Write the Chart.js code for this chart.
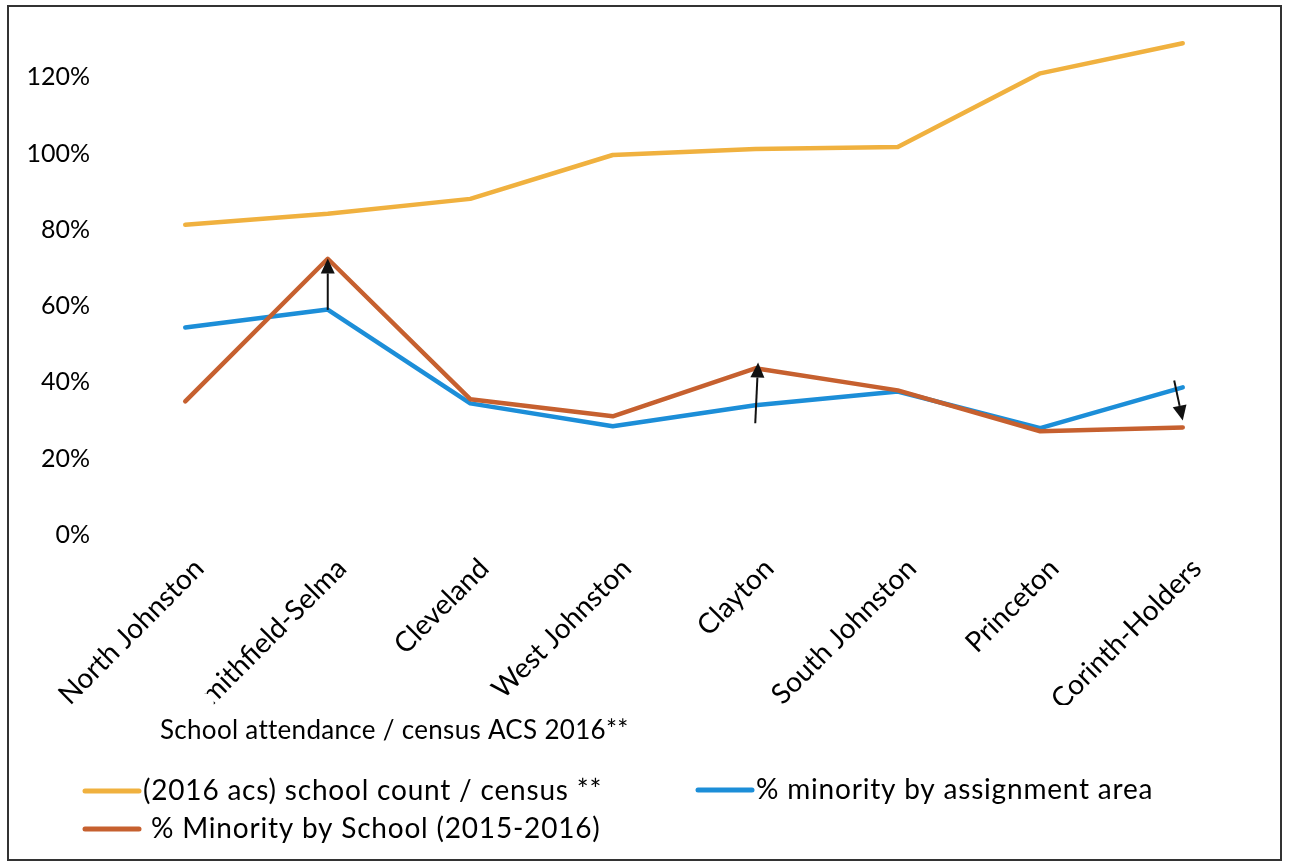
<!DOCTYPE html>
<html>
<head>
<meta charset="utf-8">
<script src="https://cdn.jsdelivr.net/npm/chart.js@4.4.1/dist/chart.umd.min.js"></script>
<style>
  html, body { margin: 0; padding: 0; background: #ffffff; }
  canvas { display: block; }
</style>
</head>
<body>
<canvas id="chart" width="1289" height="862"></canvas>
<script>
// School assignment areas, left to right
const categories = [
  'North Johnston', 'Smithfield-Selma', 'Cleveland', 'West Johnston',
  'Clayton', 'South Johnston', 'Princeton', 'Corinth-Holders'
];

// (2016 acs) school count / census
const schoolCountCensus = [0.813, 0.842, 0.881, 0.996, 1.012, 1.017, 1.210, 1.289];
// % minority by assignment area
const minorityByArea = [0.544, 0.591, 0.345, 0.285, 0.340, 0.376, 0.280, 0.387];
// % minority by school (2015-2016)
const minorityBySchool = [0.350, 0.724, 0.356, 0.311, 0.437, 0.379, 0.272, 0.282];

const yTickValues = [0, 0.2, 0.4, 0.6, 0.8, 1.0, 1.2];

const seriesNames = [
  '(2016 acs) school count / census **',
  '% minority by assignment area',
  ' % Minority by School (2015-2016)'
];
const xAxisTitle = 'School attendance / census ACS 2016**';

// Shift arrows between area and school shares: [fromIndex, fromValue, toIndex, toValue]
const shiftArrows = [
  [1, 0.59, 1, 0.725],
  [4, 0.293, 4.02, 0.452],
  [6.94, 0.405, 7, 0.300]
];

const COLORS = { gold: '#F0B13F', blue: '#1C8ED8', rust: '#C6602F' };
const FONT = 'Lato, "Open Sans", sans-serif';

// Clips the rotated category labels at the lower edge of the axis band;
// the long second label is cut a little higher, where the axis title box begins
const clipXLabels = {
  id: 'clipXLabels',
  afterLayout(chart) {
    const s = chart.scales.x;
    if (!s || s._clipWrapped) return;
    const orig = s.drawLabels.bind(s);
    s.drawLabels = function (area) {
      const ctx = chart.ctx;
      const b = chart.chartArea.bottom;
      const p1 = s.getPixelForValue(1);
      ctx.save();
      ctx.beginPath();
      ctx.rect(0, 0, chart.width, b + 178);
      ctx.rect(p1 - 150, b + 159, 36, 19);
      ctx.clip('evenodd');
      orig(area);
      ctx.restore();
    };
    s._clipWrapped = true;
  }
};

// Arrows, axis title, legend and frame
const decorations = {
  id: 'decorations',
  afterDatasetsDraw(chart) {
    const { ctx, scales: { x, y } } = chart;
    ctx.save();
    ctx.strokeStyle = '#111';
    ctx.fillStyle = '#111';
    ctx.lineWidth = 2;
    shiftArrows.forEach(([i0, v0, i1, v1]) => {
      const x0 = x.getPixelForValue(i0), y0 = y.getPixelForValue(v0);
      const x1 = x.getPixelForValue(i1), y1 = y.getPixelForValue(v1);
      const ang = Math.atan2(y1 - y0, x1 - x0);
      const headLen = 15, headHalf = 7;
      const bx = x1 - headLen * Math.cos(ang), by = y1 - headLen * Math.sin(ang);
      ctx.beginPath();
      ctx.moveTo(x0, y0);
      ctx.lineTo(bx, by);
      ctx.stroke();
      ctx.beginPath();
      ctx.moveTo(x1, y1);
      ctx.lineTo(bx + headHalf * Math.sin(ang), by - headHalf * Math.cos(ang));
      ctx.lineTo(bx - headHalf * Math.sin(ang), by + headHalf * Math.cos(ang));
      ctx.closePath();
      ctx.fill();
    });
    ctx.restore();
  },
  afterDraw(chart) {
    const { ctx, chartArea } = chart;
    ctx.save();
    ctx.fillStyle = '#000';
    ctx.textBaseline = 'middle';
    ctx.textAlign = 'left';
    ctx.font = '26px ' + FONT;
    ctx.letterSpacing = '0.3px';
    ctx.fillText(xAxisTitle, 160, chartArea.bottom + 196);

    // legend: two columns, two rows
    ctx.font = '28px ' + FONT;
    ctx.letterSpacing = '0.8px';
    const ds = chart.data.datasets;
    const items = [
      { d: ds[0], x: 85, y: chartArea.bottom + 256 },
      { d: ds[1], x: 698, y: chartArea.bottom + 255 },
      { d: ds[2], x: 85, y: chartArea.bottom + 294 }
    ];
    items.forEach(it => {
      ctx.strokeStyle = it.d.borderColor;
      ctx.lineWidth = 5;
      ctx.lineCap = 'round';
      ctx.beginPath();
      ctx.moveTo(it.x, it.y);
      ctx.lineTo(it.x + 54, it.y);
      ctx.stroke();
      ctx.fillStyle = '#000';
      ctx.fillText(it.d.label, it.x + 58, it.y);
    });

    // frame
    ctx.letterSpacing = '0px';
    ctx.strokeStyle = '#333';
    ctx.lineWidth = 2;
    ctx.strokeRect(8, 6, 1273, 854);
    ctx.restore();
  }
};

function build() {
  new Chart(document.getElementById('chart'), {
    type: 'line',
    data: {
      labels: categories,
      datasets: [
        { label: seriesNames[0], data: schoolCountCensus, borderColor: COLORS.gold, order: 2 },
        { label: seriesNames[1], data: minorityByArea, borderColor: COLORS.blue, order: 1 },
        { label: seriesNames[2], data: minorityBySchool, borderColor: COLORS.rust, order: 0 }
      ]
    },
    options: {
      responsive: false,
      animation: false,
      events: [],
      layout: { padding: { left: 10, right: 35, top: 7, bottom: 157 } },
      elements: {
        line: { borderWidth: 4.5, tension: 0, borderCapStyle: 'round', borderJoinStyle: 'round', fill: false },
        point: { radius: 0 }
      },
      plugins: { legend: { display: false }, tooltip: { enabled: false }, title: { display: false } },
      scales: {
        x: {
          offset: true,
          grid: { display: false, drawTicks: false },
          border: { display: false },
          ticks: {
            autoSkip: false, maxRotation: 45, minRotation: 45,
            color: '#000', font: { family: FONT, size: 28 },
            padding: 17, labelOffset: 14
          },
          afterFit(s) { s.height = 170; }
        },
        y: {
          min: 0, max: 1.30,
          grid: { display: false, drawTicks: false },
          border: { display: false },
          ticks: {
            color: '#000', font: { family: FONT, size: 25 }, padding: 24,
            callback: v => Math.round(v * 100) + '%'
          },
          afterBuildTicks(s) { s.ticks = yTickValues.map(v => ({ value: v })); },
          afterFit(s) { s.width = 104; }
        }
      }
    },
    plugins: [clipXLabels, decorations]
  });
}

if (document.fonts && document.fonts.load) {
  document.fonts.load('24px Lato').then(build, build);
} else {
  build();
}
</script>
</body>
</html>
